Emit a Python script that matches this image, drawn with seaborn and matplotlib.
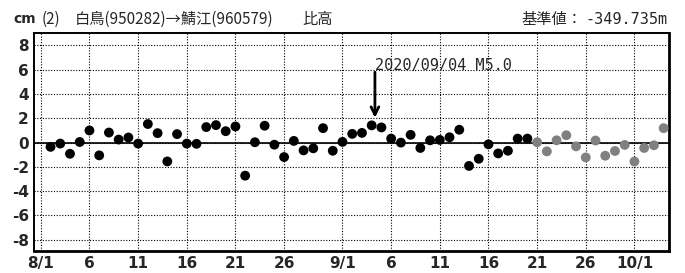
import pandas as pd
import seaborn as sns
import numpy as np
import matplotlib.pyplot as plt
import matplotlib.dates as mdates

# ______________________________________________________ DATA
start_day = '2020-08-02'
values_final = [-0.35, -0.08, -0.92, 0.05, 1.0, -1.05, 0.83, 0.25, 0.42, -0.08,
                1.53, 0.78, -1.55, 0.70, -0.08, -0.10, 1.28, 1.44, 0.94, 1.33,
                -2.72, 0.03, 1.39, -0.17, -1.19, 0.14, -0.64, -0.47, 1.19, -0.67,
                0.06, 0.72, 0.80, 1.42, 1.25, 0.33, 0.00, 0.64, -0.44, 0.19,
                0.22, 0.44, 1.06, -1.92, -1.33, -0.14, -0.89, -0.67, 0.33, 0.33]
values_quick = [0.03, -0.72, 0.19, 0.61, -0.31, -1.22, 0.17, -1.08, -0.69, -0.19,
                -1.56, -0.44, -0.22, 1.19]

tick_dates = ['2020-08-01', '2020-08-06', '2020-08-11', '2020-08-16', '2020-08-21',
              '2020-08-26', '2020-09-01', '2020-09-06', '2020-09-11', '2020-09-16',
              '2020-09-21', '2020-09-26', '2020-10-01']
tick_labels = ['8/1', '6', '11', '16', '21', '26', '9/1', '6', '11', '16', '21', '26', '10/1']
y_ticks = [8, 6, 4, 2, 0, -2, -4, -6, -8]

title_num = '(2)'
title_pair = '白鳥(950282)→鯖江(960579)'
title_kind = '比高'
ref_name = '基準値：'
ref_value = '-349.735m'
event_date = '2020-09-04 08:00'
event_label = '2020/09/04 M5.0'

# ______________________________________________________ CLEAN DATA
vals = values_final + values_quick
df = pd.DataFrame({
    'date': pd.date_range(start_day, periods=len(vals), freq='D'),
    'cm': vals,
    'kind': ['final'] * len(values_final) + ['quick'] * len(values_quick),
})

# ______________________________________________________ PLOT
sns.set_style('white')
plt.rcParams['font.family'] = ['Noto Sans CJK JP', 'DejaVu Sans']

fig = plt.figure(figsize=(6.85, 2.73), dpi=100)
ax = fig.add_axes([0.0501, 0.0817, 0.9270, 0.7963])

sns.scatterplot(data=df, x='date', y='cm', hue='kind',
                palette={'final': '#000000', 'quick': '#808080'},
                s=50, linewidth=0, legend=False, ax=ax, zorder=3)

ax.axhline(0, color='black', lw=1.2, zorder=2)
ax.set_xlim(pd.Timestamp('2020-07-31 08:00'), pd.Timestamp('2020-10-04 14:00'))
ax.set_ylim(-8.9, 9.0)

ax.set_xticks(pd.to_datetime(tick_dates))
ax.set_xticklabels(tick_labels)
ax.set_yticks(y_ticks)
ax.set_yticklabels([str(v) for v in y_ticks])
ax.grid(True, color='black', linestyle=(0, (1, 1.5)), lw=0.8, zorder=1)
ax.tick_params(length=0, pad=4)
for lab in ax.get_xticklabels() + ax.get_yticklabels():
    lab.set_family(['Liberation Sans Narrow', 'DejaVu Sans'])
    lab.set_fontweight('bold')
    lab.set_fontsize(11)
ax.set_xlabel('')
ax.set_ylabel('')
for side, sp in ax.spines.items():
    sp.set_color('black')
    sp.set_linewidth(1.4 if side in ('top', 'left') else 2.0)

# earthquake marker
ev = pd.Timestamp(event_date)
ax.annotate('', xy=(ev, 2.05), xytext=(ev, 5.8),
            arrowprops=dict(arrowstyle='->', lw=2, color='black', mutation_scale=14,
                            shrinkA=0, shrinkB=0))
ax.text(ev, 5.95, event_label, ha='left', va='baseline', fontsize=11,
        family=['DejaVu Sans Mono', 'DejaVu Sans'])

# header
fig.text(0.020, 0.93, 'cm', fontsize=10, fontweight='bold', va='center',
         family=['Liberation Sans Narrow', 'DejaVu Sans'])
fig.text(42 / 685, 0.93, title_num, fontsize=11, va='center')
fig.text(75 / 685, 0.93, title_pair, fontsize=11, va='center')
fig.text(302 / 685, 0.93, title_kind, fontsize=11, va='center')
fig.text(582 / 685, 0.93, ref_name, fontsize=11, va='center', ha='right')
fig.text(668 / 685, 0.93, ref_value, fontsize=11, va='center', ha='right',
         family=['DejaVu Sans Mono', 'DejaVu Sans'])

fig.savefig('out.png', dpi=100)
